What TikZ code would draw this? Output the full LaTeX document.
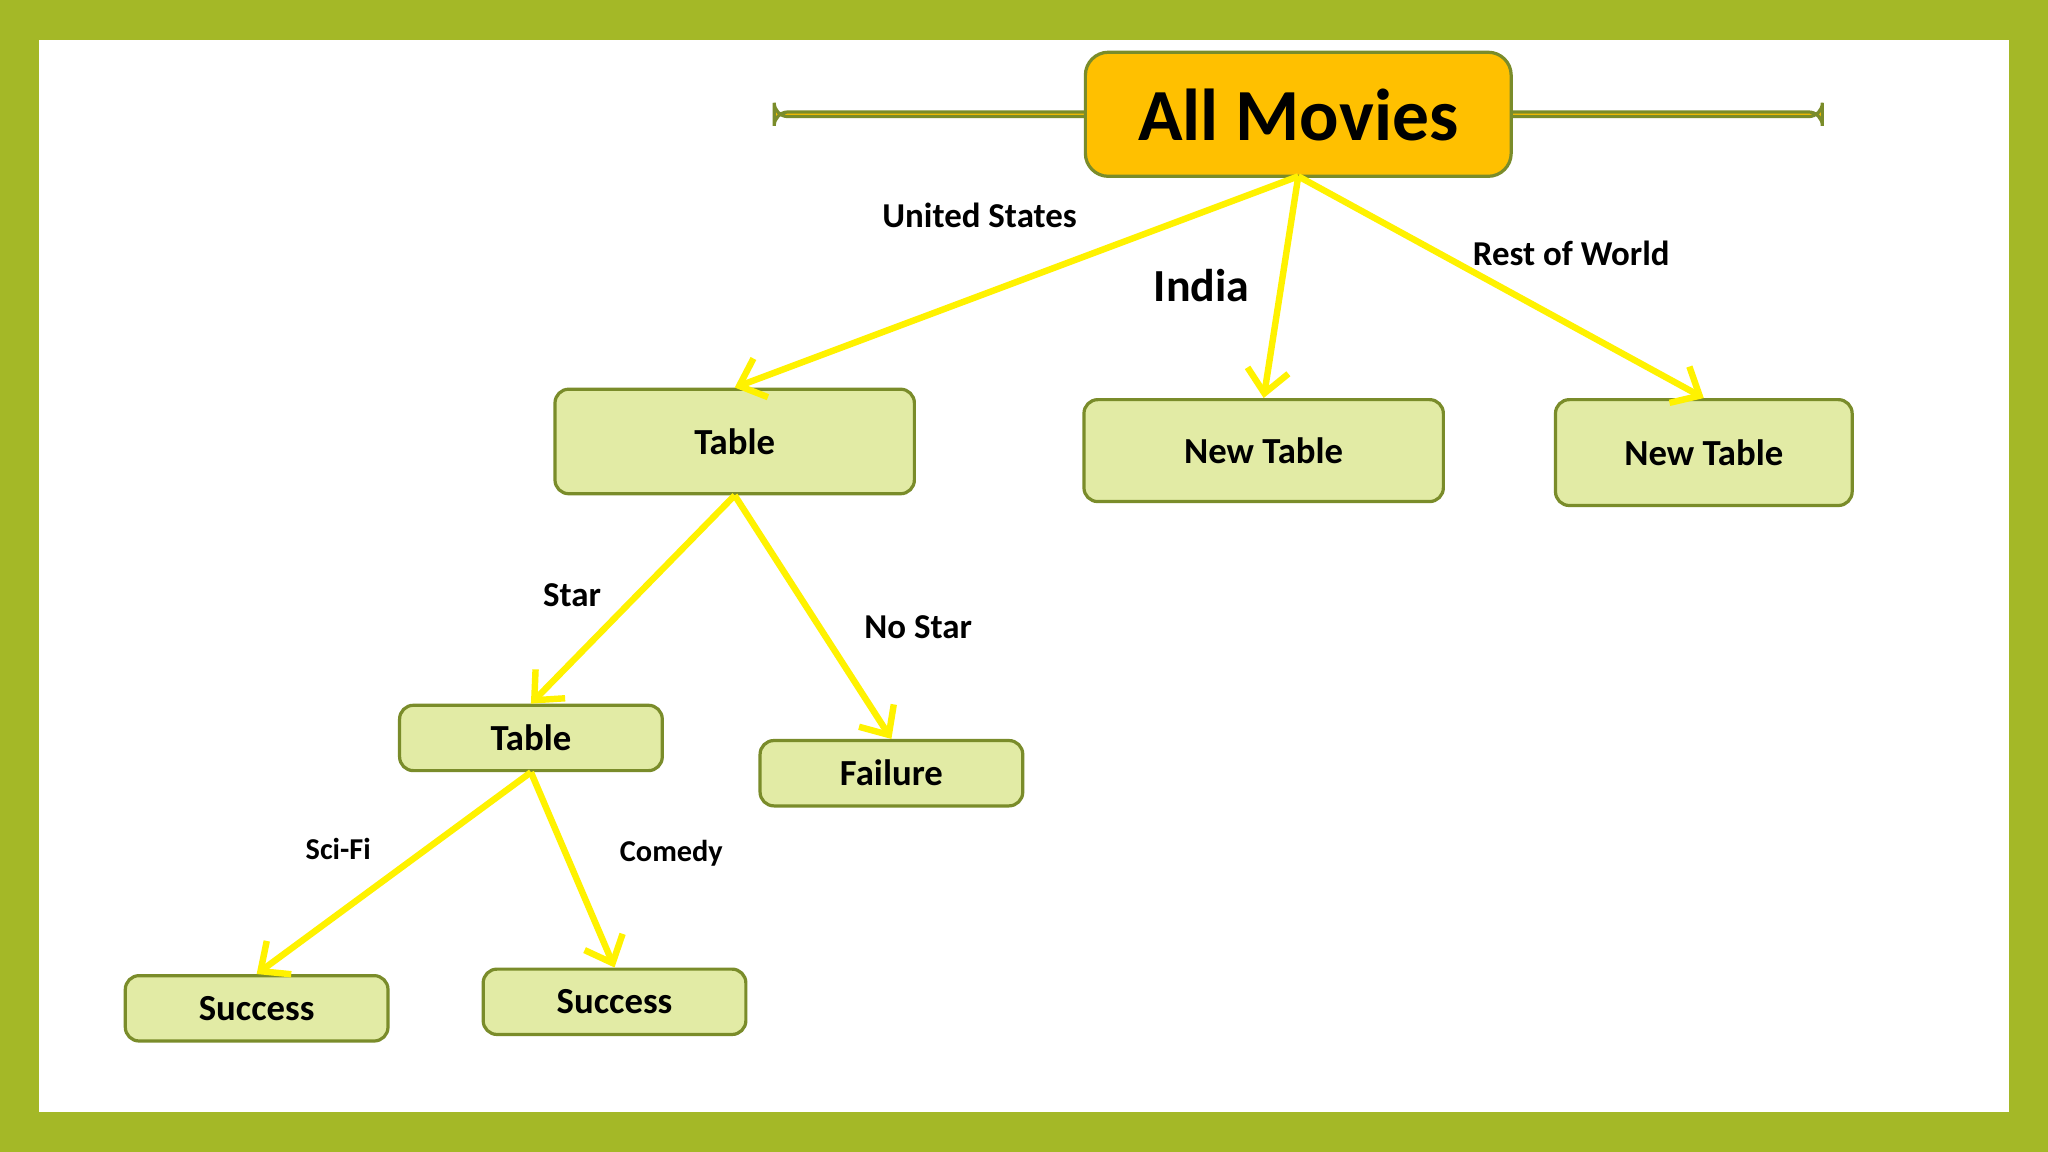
\documentclass[tikz,border=0pt]{standalone}
\usepackage{fontspec}
\setmainfont{Carlito}
\usetikzlibrary{arrows.meta}
\definecolor{frame}{HTML}{A4B827}
\definecolor{boxfill}{HTML}{E2EBA5}
\definecolor{boxline}{HTML}{7A8C2A}
\definecolor{top}{HTML}{FFC000}
\begin{document}
\begin{tikzpicture}[x=0.01cm,y=-0.01cm,
  box/.style={draw=boxline,line width=0.7pt,fill=boxfill,rounded corners=3pt,font=\bfseries\fontsize{8}{9}\selectfont,inner sep=0pt},
  arr/.style={draw=yellow,line width=1.4pt,-{Straight Barb[length=5pt,width=9pt,line width=1.4pt]}},
  lab/.style={font=\bfseries\fontsize{7.6}{9}\selectfont}]
\fill[frame] (0,0) rectangle (1568,882);
\fill[white] (30,31) rectangle (1538,851);
\node[box,fill=top,minimum width=326\pgflinewidth,font=\bfseries\fontsize{16}{18}\selectfont] (am) at (994,87.5) {};
\draw[boxline,line width=0.7pt,fill=top,rounded corners=5pt] (831,40) rectangle (1157,135);
\node[font=\bfseries\fontsize{16}{18}\selectfont] (amt) at (994,88) {All Movies};
\coordinate (amb) at (994,135);
\node[box,minimum width=2.75cm,minimum height=0.8cm] (t1) at (562.5,338) {Table};
\node[box,minimum width=2.75cm,minimum height=0.78cm] (n1) at (967.5,345) {New Table};
\node[box,minimum width=2.27cm,minimum height=0.81cm] (n2) at (1304.5,346.5) {New Table};
\node[box,minimum width=2.01cm,minimum height=0.5cm] (t2) at (406.5,565) {Table};
\node[box,minimum width=2.01cm,minimum height=0.5cm] (f) at (682.5,592) {Failure};
\node[box,minimum width=2.01cm,minimum height=0.5cm] (s1) at (196.5,772) {Success};
\node[box,minimum width=2.01cm,minimum height=0.5cm] (s2) at (470.5,767) {Success};
\draw[arr] (amb) -- (t1.north);
\draw[arr] (amb) -- (n1.north);
\draw[arr] (amb) -- (n2.north);
\draw[arr] (t1.south) -- (t2.north);
\draw[arr] (t1.south) -- (f.north);
\draw[arr] (t2.south) -- (s1.north);
\draw[arr] (t2.south) -- (s2.north);
\node[lab] (l1) at (750,165) {United States};
\node[font=\bfseries\fontsize{10}{12}\selectfont] (l2) at (920,219) {India};
\node[lab] (l3) at (1203,194) {Rest of World};
\node[lab] (l4) at (438,456) {Star};
\node[lab] (l5) at (703,480) {No Star};
\node[lab,font=\bfseries\fontsize{6.6}{8}\selectfont] (l6) at (259,650) {Sci-Fi};
\node[lab,font=\bfseries\fontsize{6.6}{8}\selectfont] (l7) at (514,653) {Comedy};
\end{tikzpicture}
\end{document}
